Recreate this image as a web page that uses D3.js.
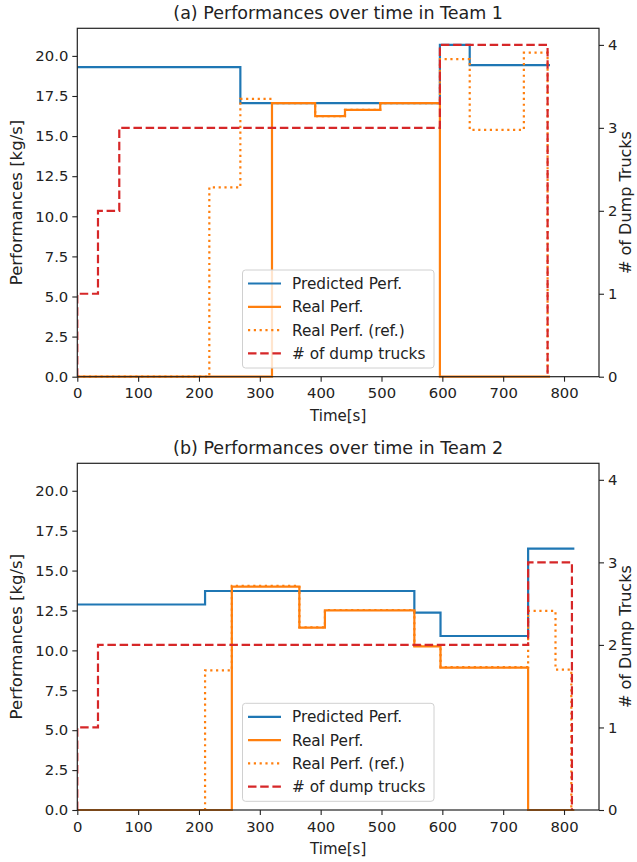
<!DOCTYPE html>
<html>
<head>
<meta charset="utf-8">
<script src="https://cdn.jsdelivr.net/npm/d3@7"></script>
<style>
  html, body { margin: 0; padding: 0; background: #fff; }
  svg { display: block; }
  text { font-family: "DejaVu Sans", sans-serif; fill: #222; }
</style>
</head>
<body>
<svg id="chart" width="637" height="862"></svg>
<script>
// ---------------- DATA ----------------
const xTicks = [0, 100, 200, 300, 400, 500, 600, 700, 800];
const yTicks = [0, 2.5, 5, 7.5, 10, 12.5, 15, 17.5, 20];
const y2Ticks = [0, 1, 2, 3, 4];
const seriesNames = ["Predicted Perf.", "Real Perf.", "Real Perf. (ref.)", "# of dump trucks"];
const titles = ["(a) Performances over time in Team 1", "(b) Performances over time in Team 2"];

// Team 1 (step-after series: time of change, value from that time)
const predTime1 = [0, 268, 596, 645, 777];
const predVal1  = [19.3, 17.05, 20.69, 19.42, 19.42];
const realTime1 = [0, 320, 391, 440, 498, 596, 777];
const realVal1  = [0, 17.05, 16.25, 16.63, 17.05, 0, 0];
const refTime1  = [0, 217, 268, 320, 391, 440, 498, 596, 645, 734, 773];
const refVal1   = [0, 11.8, 17.32, 17.05, 16.25, 16.63, 17.05, 19.8, 15.39, 20.2, 0];
const truckTime1 = [0, 0, 34, 69, 596, 773];
const truckVal1  = [0, 1, 2, 3, 4, 0];

// Team 2
const predTime2 = [0, 210, 554, 597, 741, 817];
const predVal2  = [12.875, 13.72, 12.36, 10.9, 16.38, 16.38];
const realTime2 = [0, 254, 365, 407, 554, 597, 741, 817];
const realVal2  = [0, 14.0, 11.42, 12.5, 10.25, 8.92, 0, 0];
const refTime2  = [0, 210, 254, 365, 407, 554, 597, 741, 786, 812];
const refVal2   = [0, 8.75, 14.05, 11.45, 12.53, 10.28, 8.95, 12.47, 8.79, 0];
const truckTime2 = [0, 0, 34, 741, 813];
const truckVal2  = [0, 1, 2, 3, 0];

// ---------------- STYLE / LAYOUT ----------------
const colors = { pred: "#1f77b4", real: "#ff7f0e", truck: "#d62728" };
const LW = 2.2;
const xDomain = [0, 857.5];
const yDomain = [0, 21.72];
const y2Domain = [0, 4.2];
const plotLeft = 77.3, plotRight = 599;
const panelsLayout = [
  { top: 28.3, bottom: 376.7 },
  { top: 463.3, bottom: 810 }
];
const panelData = [
  { pred: [predTime1, predVal1], real: [realTime1, realVal1], ref: [refTime1, refVal1], truck: [truckTime1, truckVal1] },
  { pred: [predTime2, predVal2], real: [realTime2, realVal2], ref: [refTime2, refVal2], truck: [truckTime2, truckVal2] }
];

const svg = d3.select("#chart");
svg.append("rect").attr("width", 637).attr("height", 862).attr("fill", "#fff");

function zipSeries(pair) {
  return pair[0].map((t, i) => ({ t: t, v: pair[1][i] }));
}

panelsLayout.forEach((lay, pi) => {
  const d = panelData[pi];
  const x = d3.scaleLinear().domain(xDomain).range([plotLeft, plotRight]);
  const y = d3.scaleLinear().domain(yDomain).range([lay.bottom, lay.top]);
  const y2 = d3.scaleLinear().domain(y2Domain).range([lay.bottom, lay.top]);
  const g = svg.append("g");

  const clipId = "clip" + pi;
  g.append("clipPath").attr("id", clipId).append("rect")
    .attr("x", plotLeft).attr("y", lay.top - 2)
    .attr("width", plotRight - plotLeft).attr("height", lay.bottom - lay.top + 4);

  const lineY = d3.line().x(p => x(p.t)).y(p => y(p.v)).curve(d3.curveStepAfter);
  const lineY2 = d3.line().x(p => x(p.t)).y(p => y2(p.v)).curve(d3.curveStepAfter);

  const lines = g.append("g").attr("clip-path", `url(#${clipId})`);
  lines.append("path").datum(zipSeries(d.pred)).attr("d", lineY)
    .attr("fill", "none").attr("stroke", colors.pred).attr("stroke-width", LW);
  lines.append("path").datum(zipSeries(d.real)).attr("d", lineY)
    .attr("fill", "none").attr("stroke", colors.real).attr("stroke-width", LW);
  lines.append("path").datum(zipSeries(d.ref)).attr("d", lineY)
    .attr("fill", "none").attr("stroke", colors.real).attr("stroke-width", LW)
    .attr("stroke-dasharray", "2.2,3.6");

  // legend (drawn in first axes), then twin-axis dashed line
  const legX = 242.5, legW = 191.5, legH = 98, legY = lay.bottom - 8.7 - legH;
  const leg = g.append("g");
  leg.append("rect").attr("x", legX).attr("y", legY).attr("width", legW).attr("height", legH)
    .attr("rx", 3).attr("fill", "#fff").attr("fill-opacity", 0.8)
    .attr("stroke", "#d0d0d0").attr("stroke-width", 1);
  const legStyles = [
    { c: colors.pred, dash: null },
    { c: colors.real, dash: null },
    { c: colors.real, dash: "2.2,3.6" },
    { c: colors.truck, dash: "8.5,3.7" }
  ];
  seriesNames.forEach((name, i) => {
    const ry = legY + 13.5 + i * 23.3;
    const ln = leg.append("line").attr("x1", legX + 5.5).attr("x2", legX + 38.5)
      .attr("y1", ry).attr("y2", ry).attr("stroke", legStyles[i].c).attr("stroke-width", LW);
    if (legStyles[i].dash) ln.attr("stroke-dasharray", legStyles[i].dash);
    leg.append("text").attr("x", legX + 49.5).attr("y", ry).attr("dy", "0.36em")
      .attr("font-size", 15.3).text(name);
  });

  // the truck line sits on the twin axes (drawn on top)
  g.append("g").attr("clip-path", `url(#${clipId})`)
    .append("path").datum(zipSeries(d.truck)).attr("d", lineY2)
    .attr("fill", "none").attr("stroke", colors.truck).attr("stroke-width", LW)
    .attr("stroke-dasharray", "8.5,3.7");

  // axes
  const fmt = d3.format(".1f");
  const ax = g.append("g").attr("transform", `translate(0,${lay.bottom})`)
    .call(d3.axisBottom(x).tickValues(xTicks).tickSize(5).tickPadding(4).tickSizeOuter(0));
  const ay = g.append("g").attr("transform", `translate(${plotLeft},0)`)
    .call(d3.axisLeft(y).tickValues(yTicks).tickFormat(fmt).tickSize(5).tickPadding(4).tickSizeOuter(0));
  const ay2 = g.append("g").attr("transform", `translate(${plotRight},0)`)
    .call(d3.axisRight(y2).tickValues(y2Ticks).tickFormat(d3.format("d")).tickSize(5).tickPadding(4).tickSizeOuter(0));
  [ax, ay, ay2].forEach(a => {
    a.selectAll("text").attr("font-size", 14.8).attr("font-family", "DejaVu Sans").attr("fill", "#222");
    a.selectAll(".tick line").attr("stroke", "#222").attr("stroke-width", 1.1);
    a.select(".domain").remove();
  });
  ax.selectAll("text").attr("dy", "0.85em");

  // frame (spines)
  g.append("rect").attr("x", plotLeft).attr("y", lay.top)
    .attr("width", plotRight - plotLeft).attr("height", lay.bottom - lay.top)
    .attr("fill", "none").attr("stroke", "#222").attr("stroke-width", 1.2);

  // title & labels
  g.append("text").attr("x", (plotLeft + plotRight) / 2).attr("y", lay.top - 9)
    .attr("text-anchor", "middle").attr("font-size", 17.5).text(titles[pi]);
  g.append("text").attr("x", (plotLeft + plotRight) / 2).attr("y", lay.bottom + 44)
    .attr("text-anchor", "middle").attr("font-size", 15).text("Time[s]");
  g.append("text").attr("transform", `translate(22,${(lay.top + lay.bottom) / 2}) rotate(-90)`)
    .attr("text-anchor", "middle").attr("font-size", 16.5).text("Performances [kg/s]");
  g.append("text").attr("transform", `translate(630.5,${(lay.top + lay.bottom) / 2}) rotate(-90)`)
    .attr("text-anchor", "middle").attr("font-size", 16).text("# of Dump Trucks");
});
</script>
</body>
</html>
